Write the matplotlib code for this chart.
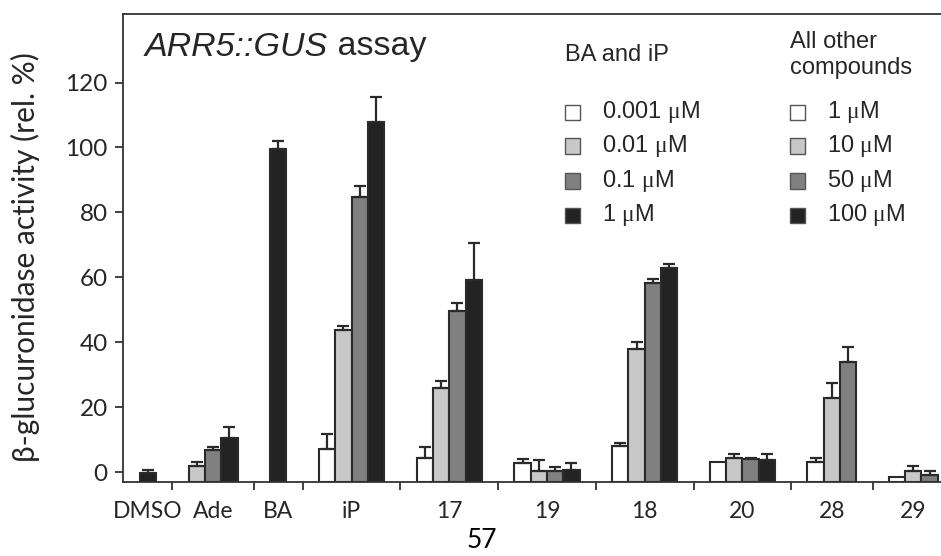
import numpy as np
import matplotlib.pyplot as plt
from matplotlib.patches import Rectangle

# data, NaN = no bar
groups = ['DMSO', 'Ade', 'BA', 'iP', '17', '19', '18', '20', '28', '29']

c1 = np.array([np.nan, np.nan, np.nan, 7.1, 4.5, 3.0, 8.1, 3.3, 3.3, -1.5])
c2 = np.array([np.nan, 2.0, np.nan, 43.8, 25.9, 0.5, 37.9, 4.5, 23.0, 0.5])
c3 = np.array([np.nan, 6.8, np.nan, 84.7, 49.8, 0.3, 58.2, 4.1, 33.9, -0.8])
c4 = np.array([-0.3, 10.5, 99.5, 107.8, 59.3, 0.6, 63.0, 3.7, np.nan, np.nan])

c1_err = np.array([np.nan, np.nan, np.nan, 4.7, 3.4, 1.0, 1.0, 0.0, 1.0, 0.0])
c2_err = np.array([np.nan, 1.1, np.nan, 1.3, 2.3, 3.3, 2.3, 1.0, 4.4, 1.4])
c3_err = np.array([np.nan, 1.1, np.nan, 3.5, 2.3, 1.2, 1.3, 0.2, 4.6, 1.2])
c4_err = np.array([1.0, 3.5, 2.5, 7.7, 11.4, 2.4, 1.1, 1.9, np.nan, np.nan])

labels_ba = ['0.001 $\\mathrm{\\mu}$M', '0.01 $\\mathrm{\\mu}$M', '0.1 $\\mathrm{\\mu}$M', '1 $\\mathrm{\\mu}$M']
labels_other = ['1 $\\mathrm{\\mu}$M', '10 $\\mathrm{\\mu}$M', '50 $\\mathrm{\\mu}$M', '100 $\\mathrm{\\mu}$M']

series = [c1, c2, c3, c4]
errors = [c1_err, c2_err, c3_err, c4_err]
colors = ['#ffffff', '#c8c8c8', '#808080', '#232323']
edge = '#2a2a2a'
txt = '#262626'

plt.rcParams['mathtext.fontset'] = 'custom'
plt.rcParams['mathtext.rm'] = 'Liberation Serif'

fig = plt.figure(figsize=(9.41, 5.56), dpi=100)
ax = fig.add_axes([123/941, 74/556, 818/941, 468/556])

ymin = -3.0
gap = 2

# Balken nacheinander, Luecke zwischen Gruppen
slot = 0
centers = []
seps = []
for g in range(len(groups)):
    xs = []
    for k in range(4):
        v = series[k][g]
        if np.isnan(v):
            continue
        ax.bar(slot, v - ymin, bottom=ymin, width=1.0, color=colors[k],
               edgecolor=edge, linewidth=1.5, zorder=2)
        e = errors[k][g]
        if e > 0:
            ax.errorbar(slot, v, yerr=[[0], [e]], fmt='none', ecolor=edge,
                        elinewidth=1.6, capsize=4.6, capthick=1.6, zorder=3)
        xs.append(slot)
        slot += 1
    centers.append(np.mean(xs))
    if g < len(groups) - 1:
        seps.append(xs[-1] + (gap + 1) / 2)
    slot += gap

ax.set_xlim(-1.54, 48.7)
ax.set_ylim(ymin, 141.1)

ax.set_xticks(centers)
ax.set_xticklabels(groups, family=['Lato', 'DejaVu Sans'], fontsize=16.5, color=txt)
ax.set_xticks(seps, minor=True)
ax.tick_params(axis='x', which='major', length=0, pad=14)
ax.tick_params(axis='x', which='minor', length=6, width=1.3, color='#333333', direction='out')

ax.set_yticks(np.arange(0, 121, 20))
ax.set_yticklabels([str(v) for v in range(0, 121, 20)], family=['Lato', 'DejaVu Sans'],
                   fontsize=17.5, color=txt)
ax.tick_params(axis='y', length=6, width=1.3, color='#333333', pad=5)

ax.spines['right'].set_visible(False)
for s in ['left', 'bottom', 'top']:
    ax.spines[s].set_color('#333333')
    ax.spines[s].set_linewidth(1.3)

fig.text(25/941, 1 - 257/556, 'β-glucuronidase activity (rel. %)', rotation=90,
         ha='center', va='center', fontsize=21.5, color=txt,
         family=['Lato', 'Liberation Serif'])

# Titel, kursiv + normal
t1 = fig.text(145/941, 1 - 47/556, 'ARR5::GUS', fontsize=24.5, style='italic',
              family='Liberation Sans', color=txt, va='center', ha='left')
ax.annotate(' assay', xy=(1, 0), xycoords=t1, va='bottom', ha='left',
            fontsize=24.5, family='Liberation Sans', color=txt)

# Legende von Hand
rows = [112, 146, 181, 215]
fig.text(565/941, 1 - 55/556, 'BA and iP', fontsize=17, family='Liberation Sans',
         color=txt, va='center', ha='left')
fig.text(790/941, 1 - 42/556, 'All other', fontsize=17, family='Liberation Sans',
         color=txt, va='center', ha='left')
fig.text(790/941, 1 - 68/556, 'compounds', fontsize=17, family='Liberation Sans',
         color=txt, va='center', ha='left')
for i in range(4):
    for sx, tx, lab in [(565, 602, labels_ba[i]), (790, 827, labels_other[i])]:
        fig.patches.append(Rectangle((sx/941, 1 - (rows[i] + 7.5)/556), 15/941, 15/556,
                                     transform=fig.transFigure, facecolor=colors[i],
                                     edgecolor='#555555', linewidth=1.0))
        fig.text(tx/941, 1 - rows[i]/556, lab, fontsize=17, family='Liberation Sans',
                 color=txt, va='center', ha='left')

# Seitenzahl
fig.text(482/941, 1 - 540/556, '57', fontsize=19, family=['Lato', 'DejaVu Sans'],
         color='black', ha='center', va='center')

plt.savefig('out.png', dpi=100)
